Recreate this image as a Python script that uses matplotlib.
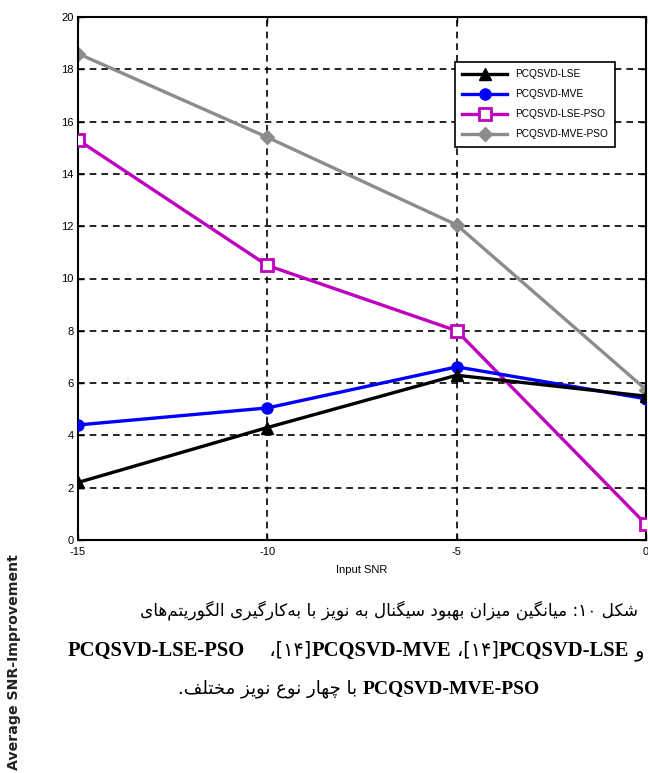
import unicodedata
import matplotlib
matplotlib.use("Agg")
import matplotlib.pyplot as plt

# ---------------- data ----------------
snr = [-15, -10, -5, 0]
lse = [2.2, 4.3, 6.3, 5.5]
mve = [4.4, 5.05, 6.62, 5.4]
lse_pso = [15.3, 10.5, 8.0, 0.6]
mve_pso = [18.6, 15.4, 12.05, 5.75]
series_labels = ["PCQSVD-LSE", "PCQSVD-MVE", "PCQSVD-LSE-PSO", "PCQSVD-MVE-PSO"]
xticks = [-15, -10, -5, 0]
yticks = list(range(0, 21, 2))
xlabel = "Input SNR"
ylabel = "Average SNR-Improvement"
caption1 = "شکل ۱۰: میانگین میزان بهبود سیگنال به نویز با به\u200cکارگیری الگوریتم\u200cهای"
caption3_fa = "با چهار نوع نویز مختلف."

# ------------- Persian shaping helpers -------------
DUAL = set("بپتثجچحخسشصضطظعغفقکگلمنهیئيك")
RIGHT = set("اآأإدذرزژوؤة")
DIGITS = set("۰۱۲۳۴۵۶۷۸۹0123456789")
MIRROR = {"[": "]", "]": "[", "(": ")", ")": "("}


def shape(s):
    out = []
    n = len(s)
    for i, c in enumerate(s):
        if c == "\u200c":
            continue
        if c in DUAL or c in RIGHT:
            prev = s[i - 1] if i > 0 else ""
            nxt = s[i + 1] if i < n - 1 else ""
            pc = prev in DUAL
            nc = (c in DUAL) and (nxt in DUAL or nxt in RIGHT)
            form = "MEDIAL" if (pc and nc) else "FINAL" if pc else "INITIAL" if nc else "ISOLATED"
            try:
                out.append(unicodedata.lookup(f"{unicodedata.name(c)} {form} FORM"))
            except KeyError:
                out.append(c)
        else:
            out.append(c)
    return "".join(out)


def visual(s):
    sh = shape(s)
    runs = []
    for ch in sh:
        d = ch in DIGITS
        if runs and runs[-1][0] == d:
            runs[-1][1] += ch
        else:
            runs.append([d, ch])
    res = []
    for d, r in reversed(runs):
        res.append(r if d else "".join(MIRROR.get(c, c) for c in r[::-1]))
    return "".join(res)


# ---------------- figure ----------------
W, H = 648, 773
fig = plt.figure(figsize=(W / 100, H / 100), dpi=100)
ax = fig.add_axes([78 / W, 1 - 540 / H, (646 - 78) / W, (540 - 17) / H])

ax.plot(snr, lse, color="black", lw=2.4, marker="^", ms=8, label=series_labels[0], zorder=5)
ax.plot(snr, mve, color="#0000ff", lw=2.4, marker="o", ms=8, label=series_labels[1], zorder=4)
ax.plot(snr, lse_pso, color="#bf00bf", lw=2.4, marker="s", ms=8, mfc="white", mew=2,
        label=series_labels[2], zorder=3)
ax.plot(snr, mve_pso, color="#8c8c8c", lw=2.4, marker="D", ms=7, label=series_labels[3], zorder=2)

ax.set_xlim(-15, 0)
ax.set_ylim(0, 20)
ax.set_xticks(xticks)
ax.set_yticks(yticks)
tickfont = ["Liberation Sans Narrow", "Liberation Sans", "DejaVu Sans"]
ax.set_xticklabels([str(t) for t in xticks], family=tickfont, fontsize=8)
ax.set_yticklabels([str(t) for t in yticks], family=tickfont, fontsize=8)
ax.tick_params(direction="in", length=4, width=1, top=True, right=True)
ax.tick_params(axis="x", pad=5)
ax.tick_params(axis="y", pad=3)
ax.grid(True, color="black", linestyle=(0, (4, 3)), linewidth=1.2)
for sp in ax.spines.values():
    sp.set_linewidth(1.5)
    sp.set_color("black")
ax.set_xlabel(xlabel, family=tickfont, fontsize=8, labelpad=6)

leg = ax.legend(loc="upper left", bbox_to_anchor=(0.664, 0.914), borderaxespad=0,
                handlelength=4.4, labelspacing=1.0, borderpad=0.7,
                fancybox=False, edgecolor="black", framealpha=1,
                prop={"family": tickfont, "size": 7.3})
leg.get_frame().set_linewidth(1.2)

renderer = fig.canvas.get_renderer()

LAT = dict(family=["Liberation Serif", "DejaVu Serif"], fontweight="bold")
FA = dict(family=["DejaVu Sans"])


def place_line(segs, ybase, x0, x1):
    texts = []
    for s, props, size in segs:
        t = fig.text(0, 1 - ybase / H, s, fontsize=size, ha="left", va="baseline", **props)
        texts.append(t)
    widths = [t.get_window_extent(renderer).width for t in texts]
    scale = (x1 - x0) / sum(widths)
    for t in texts:
        t.set_fontsize(t.get_fontsize() * scale)
    widths = [t.get_window_extent(renderer).width for t in texts]
    x = x0
    for t, w in zip(texts, widths):
        t.set_x(x / W)
        x += w


place_line([(visual(caption1), FA, 12)], 615, 140, 636)
place_line([
    ("PCQSVD-LSE-PSO", LAT, 13),
    ("    \u060c[۱۴]", FA, 12),
    ("PCQSVD-MVE", LAT, 13),
    (" \u060c[۱۴]", FA, 12),
    ("PCQSVD-LSE", LAT, 13),
    (" " + "و", FA, 12),
], 656, 68, 644)
place_line([
    (visual(caption3_fa), FA, 12),
    (" ", FA, 12),
    ("PCQSVD-MVE-PSO", LAT, 13),
], 693, 178, 537)

yl = fig.text(14 / W, 1 - 662 / H, ylabel, rotation=90, ha="center", va="center",
              fontsize=9, fontweight="bold", family=["DejaVu Sans"], color="#222222")
h = yl.get_window_extent(renderer).height
yl.set_fontsize(9 * 215 / h)

fig.savefig("out.png", dpi=100)
